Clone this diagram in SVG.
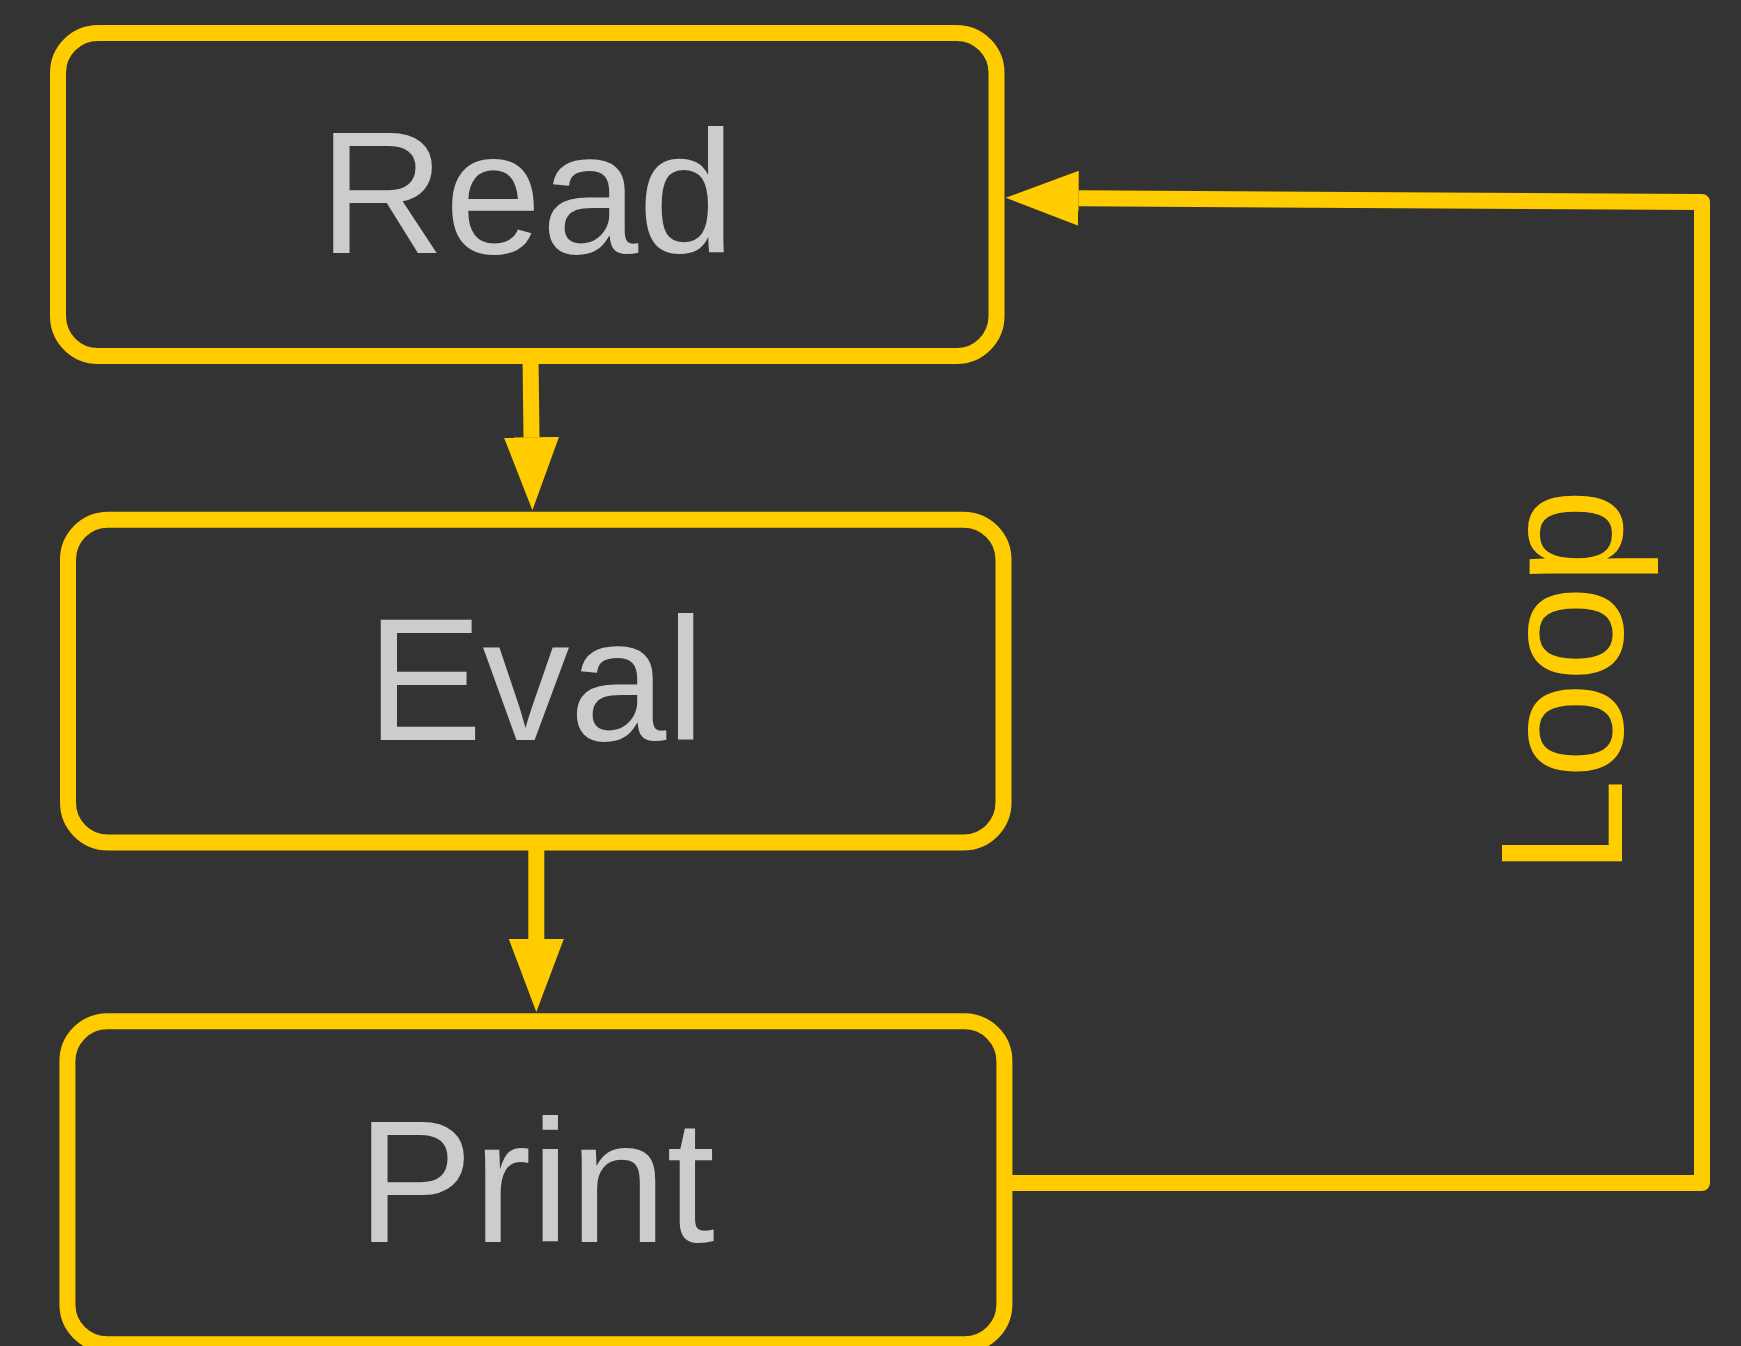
<svg xmlns="http://www.w3.org/2000/svg" width="1741" height="1346" viewBox="0 0 1741 1346">
  <style>
    .node rect { fill: #333333; stroke: #FFCC00; stroke-width: 16; }
    .node text { fill: #CCCCCC; font-family: "Liberation Sans", Arial, Helvetica, sans-serif; font-size: 174px; text-anchor: middle; }
    .edge { fill: none; stroke: #FFCC00; stroke-width: 16; stroke-linejoin: round; }
    .label { fill: #FFCC00; font-family: "Liberation Sans", Arial, Helvetica, sans-serif; font-size: 174px; text-anchor: middle; }
  </style>
  <defs>
    <marker id="arrow" viewBox="0 0 73 55" refX="0" refY="27.5" markerWidth="73" markerHeight="55" markerUnits="userSpaceOnUse" orient="auto">
      <path d="M0,0 L73,27.5 L0,55 Z" fill="#FFCC00"/>
    </marker>
  </defs>
  <rect x="0" y="0" width="1741" height="1346" fill="#333333"/>
  <g id="connectors">
    <path class="edge" d="M530.5,356 L531.5,437.3" marker-end="url(#arrow)"/>
    <path class="edge" d="M536.3,842.5 L536.3,939" marker-end="url(#arrow)"/>
    <path class="edge" d="M1004.5,1183 L1702,1183 L1702,202 L1078.6,198.3" marker-end="url(#arrow)"/>
    <text class="label" transform="translate(1621.7,682) rotate(-90)" x="0" y="0">Loop</text>
  </g>
  <g id="read" class="node">
    <rect x="58" y="33" width="938.5" height="323" rx="40" ry="40"/>
    <text x="527" y="253">Read</text>
  </g>
  <g id="eval" class="node">
    <rect x="68" y="519.7" width="935.5" height="322.8" rx="40" ry="40"/>
    <text x="535.7" y="739.5">Eval</text>
  </g>
  <g id="print" class="node">
    <rect x="67.4" y="1021.3" width="937" height="323" rx="40" ry="40"/>
    <text x="536" y="1241.7">Print</text>
  </g>
</svg>
